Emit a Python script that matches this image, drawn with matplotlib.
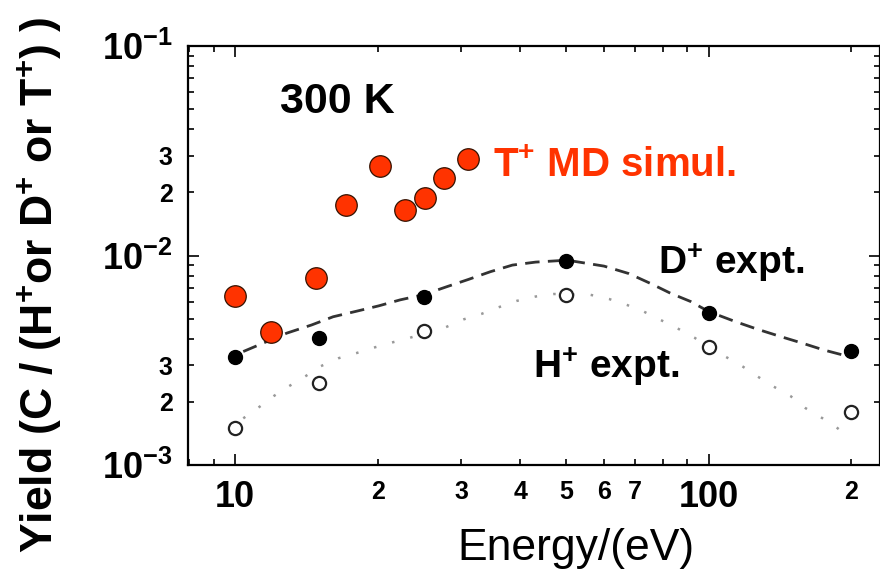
import numpy as np
import matplotlib
matplotlib.use("Agg")
import matplotlib.pyplot as plt

plt.rcParams['font.family'] = ['Liberation Sans', 'DejaVu Sans']
plt.rcParams['mathtext.default'] = 'regular'

# T+ MD simulation points
t_energy = [10, 11.9, 14.8, 17.1, 20.2, 22.8, 25.2, 27.6, 31.0]
t_yield = [0.0064, 0.0043, 0.0078, 0.0174, 0.0268, 0.0164, 0.0189, 0.0235, 0.0289]

# D+ and H+ experiments
exp_energy = [10, 15, 25, 50, 100, 200]
d_yield = [0.00329, 0.00406, 0.00635, 0.00942, 0.00533, 0.0035]
h_yield = [0.0015, 0.00247, 0.00436, 0.00647, 0.00367, 0.0018]

# guide curves
d_curve_x = [10.4, 12.85, 14.5, 16.1, 18.1, 20.1, 22.3, 25, 28.0, 31.1, 34.6, 38.5,
             43.1, 50.2, 60.1, 67.8, 75.3, 83.1, 91.6, 100, 114, 127, 142, 158, 175, 192]
d_curve_y = [0.00348, 0.00426, 0.00466, 0.0051, 0.00543, 0.00575, 0.00614, 0.0065,
             0.0071, 0.00769, 0.00837, 0.0090, 0.0093, 0.0095, 0.0089, 0.0082, 0.00736,
             0.0066, 0.00603, 0.0054, 0.00483, 0.00444, 0.0041, 0.00381, 0.00354, 0.00335]
h_curve_x = [10.4, 11.2, 12.05, 13.0, 14.1, 15.1, 16.5, 18.1, 19.6, 21.4, 23.4, 25.5,
             27.8, 30.4, 33.1, 36.0, 39.3, 43.1, 47.1, 51.5, 56.3, 61.6, 67.3, 72.9,
             79.2, 85.9, 93.2, 100, 109, 118, 127, 137, 149, 160, 174, 187, 200]
h_curve_y = [0.00167, 0.00188, 0.00213, 0.00238, 0.00266, 0.00295, 0.00323, 0.00343,
             0.00363, 0.00384, 0.00405, 0.0043, 0.00454, 0.00496, 0.00526, 0.00566,
             0.00607, 0.00637, 0.00655, 0.00652, 0.00649, 0.00620, 0.00580, 0.0054,
             0.00492, 0.00449, 0.00406, 0.00365, 0.00327, 0.00295, 0.00264, 0.00237,
             0.00213, 0.00187, 0.00167, 0.0015, 0.00133]

y_major = [1e-3, 1e-2, 1e-1]
y_major_labels = [r'$10^{-3}$', r'$10^{-2}$', r'$10^{-1}$']
x_major = [10, 100]
x_major_labels = ['10', '100']
x_minor = [8, 9, 20, 30, 40, 50, 60, 70, 80, 90, 200]
x_minor_labels = ['', '', '2', '3', '4', '5', '6', '7', '', '', '2']

red = '#ff3300'

fig = plt.figure(figsize=(8.8, 5.73), dpi=100)
ax = fig.add_axes([188 / 880, 1 - 465 / 573, (880 - 188) / 880, (465 - 46) / 573])
ax.set_xscale('log')
ax.set_yscale('log')
ax.set_xlim(7.95, 230)
ax.set_ylim(1e-3, 1e-1)

ax.plot(d_curve_x, d_curve_y, color='#333333', lw=2.0, linestyle=(0, (5.2, 3.0)))
ax.plot(h_curve_x, h_curve_y, color='#999999', lw=1.8, linestyle=(0, (1, 6.5)))
ax.plot(exp_energy, d_yield, 'o', color='black', ms=10, zorder=3)
ax.plot(exp_energy, h_yield, 'o', mfc='white', mec='#222222', mew=1.6, ms=9.5, zorder=3)
ax.plot(t_energy, t_yield, 'o', mfc=red, mec='#331100', mew=0.9, ms=15.5, zorder=4)

ax.set_xticks(x_major)
ax.set_xticklabels(x_major_labels)
ax.set_xticks(x_minor, minor=True)
ax.set_xticklabels(x_minor_labels, minor=True)

y_minor = [m * d for d in (1e-3, 1e-2) for m in range(2, 10)]
y_minor_labels = [('3' if m == 3 else '2' if m == 2 else '') for d in (1e-3, 1e-2) for m in range(2, 10)]
ax.set_yticks(y_major)
ax.set_yticklabels(y_major_labels)
ax.set_yticks(y_minor, minor=True)
ax.set_yticklabels(y_minor_labels, minor=True)

ax.tick_params(which='both', direction='in', top=True, right=True, width=1.2)
ax.tick_params(which='major', length=8, labelsize=26, pad=11)
ax.tick_params(which='minor', length=4.5, labelsize=18, pad=11)
for lab in ax.get_xticklabels() + ax.get_yticklabels() + \
        ax.get_xticklabels(minor=True) + ax.get_yticklabels(minor=True):
    lab.set_fontweight('bold')
for s in ax.spines.values():
    s.set_linewidth(1.6)

ax.text(12.45, 0.0479, '300 K', fontsize=31, fontweight='bold', va='baseline')
ax.text(35.1, 0.0237, r'T$^{+}$ MD simul.', fontsize=29, fontweight='bold', color=red, va='baseline')
ax.text(78.3, 0.00817, r'D$^{+}$ expt.', fontsize=28, fontweight='bold', va='baseline')
ax.text(42.5, 0.0026, r'H$^{+}$ expt.', fontsize=28, fontweight='bold', va='baseline')

fig.text(576 / 880, 1 - 560 / 573, 'Energy/(eV)', fontsize=32, ha='center', va='baseline')
fig.text(40 / 880, 1 - 285 / 573, r'Yield (C / (H$^{+}$or D$^{+}$ or T$^{+}$) )',
         fontsize=32, fontweight='bold', rotation=90, ha='center', va='center')

fig.savefig('out.png', dpi=100)
